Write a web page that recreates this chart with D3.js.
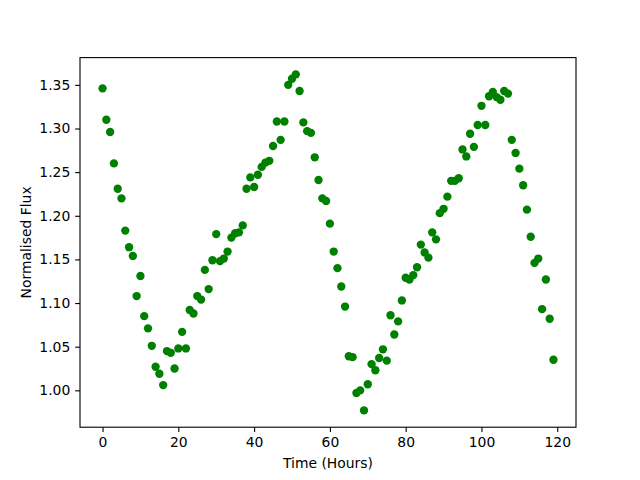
<!DOCTYPE html>
<html>
<head>
<meta charset="utf-8">
<script src="https://cdn.jsdelivr.net/npm/d3@7"></script>
<style>
  body { margin: 0; background: #fff; }
  svg text { font-family: "DejaVu Sans", sans-serif; }
</style>
</head>
<body>
<div id="chart"></div>
<script>
// hours 0..119, one reading per hour
const hours = d3.range(0, 120);
const flux = [
  1.346, 1.310, 1.296, 1.260, 1.231, 1.220, 1.183, 1.164, 1.154, 1.108,
  1.131, 1.085, 1.071, 1.051, 1.027, 1.019, 1.006, 1.045, 1.043, 1.025,
  1.048, 1.067, 1.048, 1.092, 1.088, 1.108, 1.104, 1.138, 1.116, 1.149,
  1.179, 1.148, 1.151, 1.159, 1.175, 1.180, 1.181, 1.189, 1.231, 1.244,
  1.233, 1.247, 1.256, 1.261, 1.263, 1.280, 1.308, 1.287, 1.308, 1.350,
  1.357, 1.362, 1.343, 1.307, 1.297, 1.295, 1.267, 1.241, 1.220, 1.217,
  1.191, 1.159, 1.140, 1.119, 1.096, 1.039, 1.038, 0.997, 1.000, 0.977,
  1.007, 1.030, 1.023, 1.037, 1.047, 1.034, 1.086, 1.064, 1.079, 1.103,
  1.129, 1.127, 1.132, 1.141, 1.167, 1.158, 1.152, 1.181, 1.173, 1.203,
  1.208, 1.222, 1.240, 1.240, 1.243, 1.276, 1.268, 1.294, 1.279, 1.304,
  1.326, 1.304, 1.337, 1.342, 1.336, 1.333, 1.343, 1.340, 1.287, 1.272,
  1.254, 1.235, 1.207, 1.176, 1.146, 1.151, 1.093, 1.127, 1.082, 1.035
];
const xTicks = [0, 20, 40, 60, 80, 100, 120];
const yTicks = [1.00, 1.05, 1.10, 1.15, 1.20, 1.25, 1.30, 1.35];

const W = 640, H = 480;
const margin = { top: 57.6, right: 64, bottom: 52.8, left: 80 };
const width = W - margin.left - margin.right;
const height = H - margin.top - margin.bottom;

const svg = d3.select('#chart').append('svg')
  .attr('width', W)
  .attr('height', H);

const g = svg.append('g')
  .attr('transform', `translate(${margin.left},${margin.top})`);

// matplotlib-style 5% padding
const xExt = d3.extent(hours);
const yExt = d3.extent(flux);
const xPad = (xExt[1] - xExt[0]) * 0.05;
const yPad = (yExt[1] - yExt[0]) * 0.05;

const x = d3.scaleLinear().domain([xExt[0] - xPad, xExt[1] + xPad]).range([0, width]);
const y = d3.scaleLinear().domain([yExt[0] - yPad, yExt[1] + yPad]).range([height, 0]);

const tickLen = 4.86;

const xAxis = g.append('g')
  .attr('transform', `translate(0,${height})`)
  .call(d3.axisBottom(x).tickValues(xTicks).tickFormat(d3.format('d'))
    .tickSize(tickLen).tickSizeOuter(0).tickPadding(4.9));

const yAxis = g.append('g')
  .call(d3.axisLeft(y).tickValues(yTicks).tickFormat(d3.format('.2f'))
    .tickSize(tickLen).tickSizeOuter(0).tickPadding(4.9));

[xAxis, yAxis].forEach(a => {
  a.select('.domain').remove();
  a.selectAll('.tick line').attr('stroke', '#000').attr('stroke-width', 1.1);
  a.selectAll('.tick text').attr('font-size', '13.9px').attr('fill', '#000');
});

g.selectAll('circle.pt')
  .data(hours)
  .enter()
  .append('circle')
  .attr('class', 'pt')
  .attr('cx', (d) => x(d))
  .attr('cy', (d, i) => y(flux[i]))
  .attr('r', 4.17)
  .attr('fill', 'green');

g.append('rect')
  .attr('width', width)
  .attr('height', height)
  .attr('fill', 'none')
  .attr('stroke', '#000')
  .attr('stroke-width', 1.1);

svg.append('text')
  .attr('x', margin.left + width / 2)
  .attr('y', 468)
  .attr('text-anchor', 'middle')
  .attr('font-size', '13.9px')
  .text('Time (Hours)');

svg.append('text')
  .attr('transform', `translate(31,${margin.top + height / 2}) rotate(-90)`)
  .attr('text-anchor', 'middle')
  .attr('font-size', '13.9px')
  .text('Normalised Flux');
</script>
</body>
</html>
